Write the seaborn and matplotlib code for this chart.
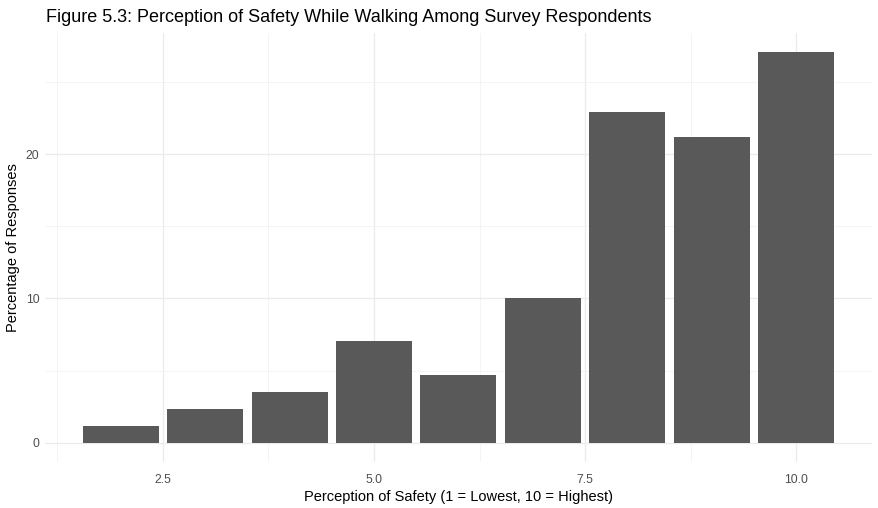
import numpy as np
import pandas as pd
import matplotlib
matplotlib.use("Agg")
import matplotlib.pyplot as plt
import seaborn as sns
from matplotlib.ticker import MultipleLocator

# Survey data: percentage of responses per safety rating
ratings = [2, 3, 4, 5, 6, 7, 8, 9, 10]
percentages = [1.18, 2.35, 3.53, 7.06, 4.71, 10.0, 22.94, 21.18, 27.06]

df = pd.DataFrame({"rating": ratings, "pct": percentages})

sns.set_theme(style="whitegrid")
plt.rcParams["font.family"] = ["Liberation Sans", "DejaVu Sans"]

fig = plt.figure(figsize=(8.79, 5.08), dpi=100)
ax = fig.add_axes([0.0512, 0.0896, 0.9408, 0.8464])

sns.barplot(data=df, x="rating", y="pct", native_scale=True, width=0.9,
            color="#595959", saturation=1, linewidth=0, ax=ax, zorder=3)

# ggplot-style expansion (5%)
xlo, xhi = min(ratings) - 0.45, max(ratings) + 0.45
xr = xhi - xlo
ax.set_xlim(xlo - 0.05 * xr, xhi + 0.05 * xr)
ymax = max(percentages)
ax.set_ylim(-0.05 * ymax, ymax * 1.05)

ax.xaxis.set_major_locator(MultipleLocator(2.5))
ax.xaxis.set_minor_locator(MultipleLocator(1.25))
ax.yaxis.set_major_locator(MultipleLocator(10))
ax.yaxis.set_minor_locator(MultipleLocator(5))
ax.xaxis.set_major_formatter(matplotlib.ticker.FormatStrFormatter("%.1f"))

ax.grid(which="major", color="#ebebeb", linewidth=0.9, zorder=0)
ax.grid(which="minor", color="#f0f0f0", linewidth=0.5, zorder=0)
ax.set_axisbelow(True)
for s in ax.spines.values():
    s.set_visible(False)
ax.set_facecolor("white")
ax.tick_params(which="both", length=0, labelsize=8.8, colors="#4d4d4d")
ax.tick_params(axis="x", pad=8)
ax.tick_params(axis="y", pad=4)

ax.set_xlabel("Perception of Safety (1 = Lowest, 10 = Highest)", fontsize=10.5,
              color="black", labelpad=3)
ax.set_ylabel("Percentage of Responses", fontsize=10.5, color="black", labelpad=4)
fig.text(0.0523, 0.966, "Figure 5.3: Perception of Safety While Walking Among Survey Respondents",
         fontsize=13, color="black", ha="left", va="center")

fig.savefig("out.png", dpi=100, facecolor="white")
